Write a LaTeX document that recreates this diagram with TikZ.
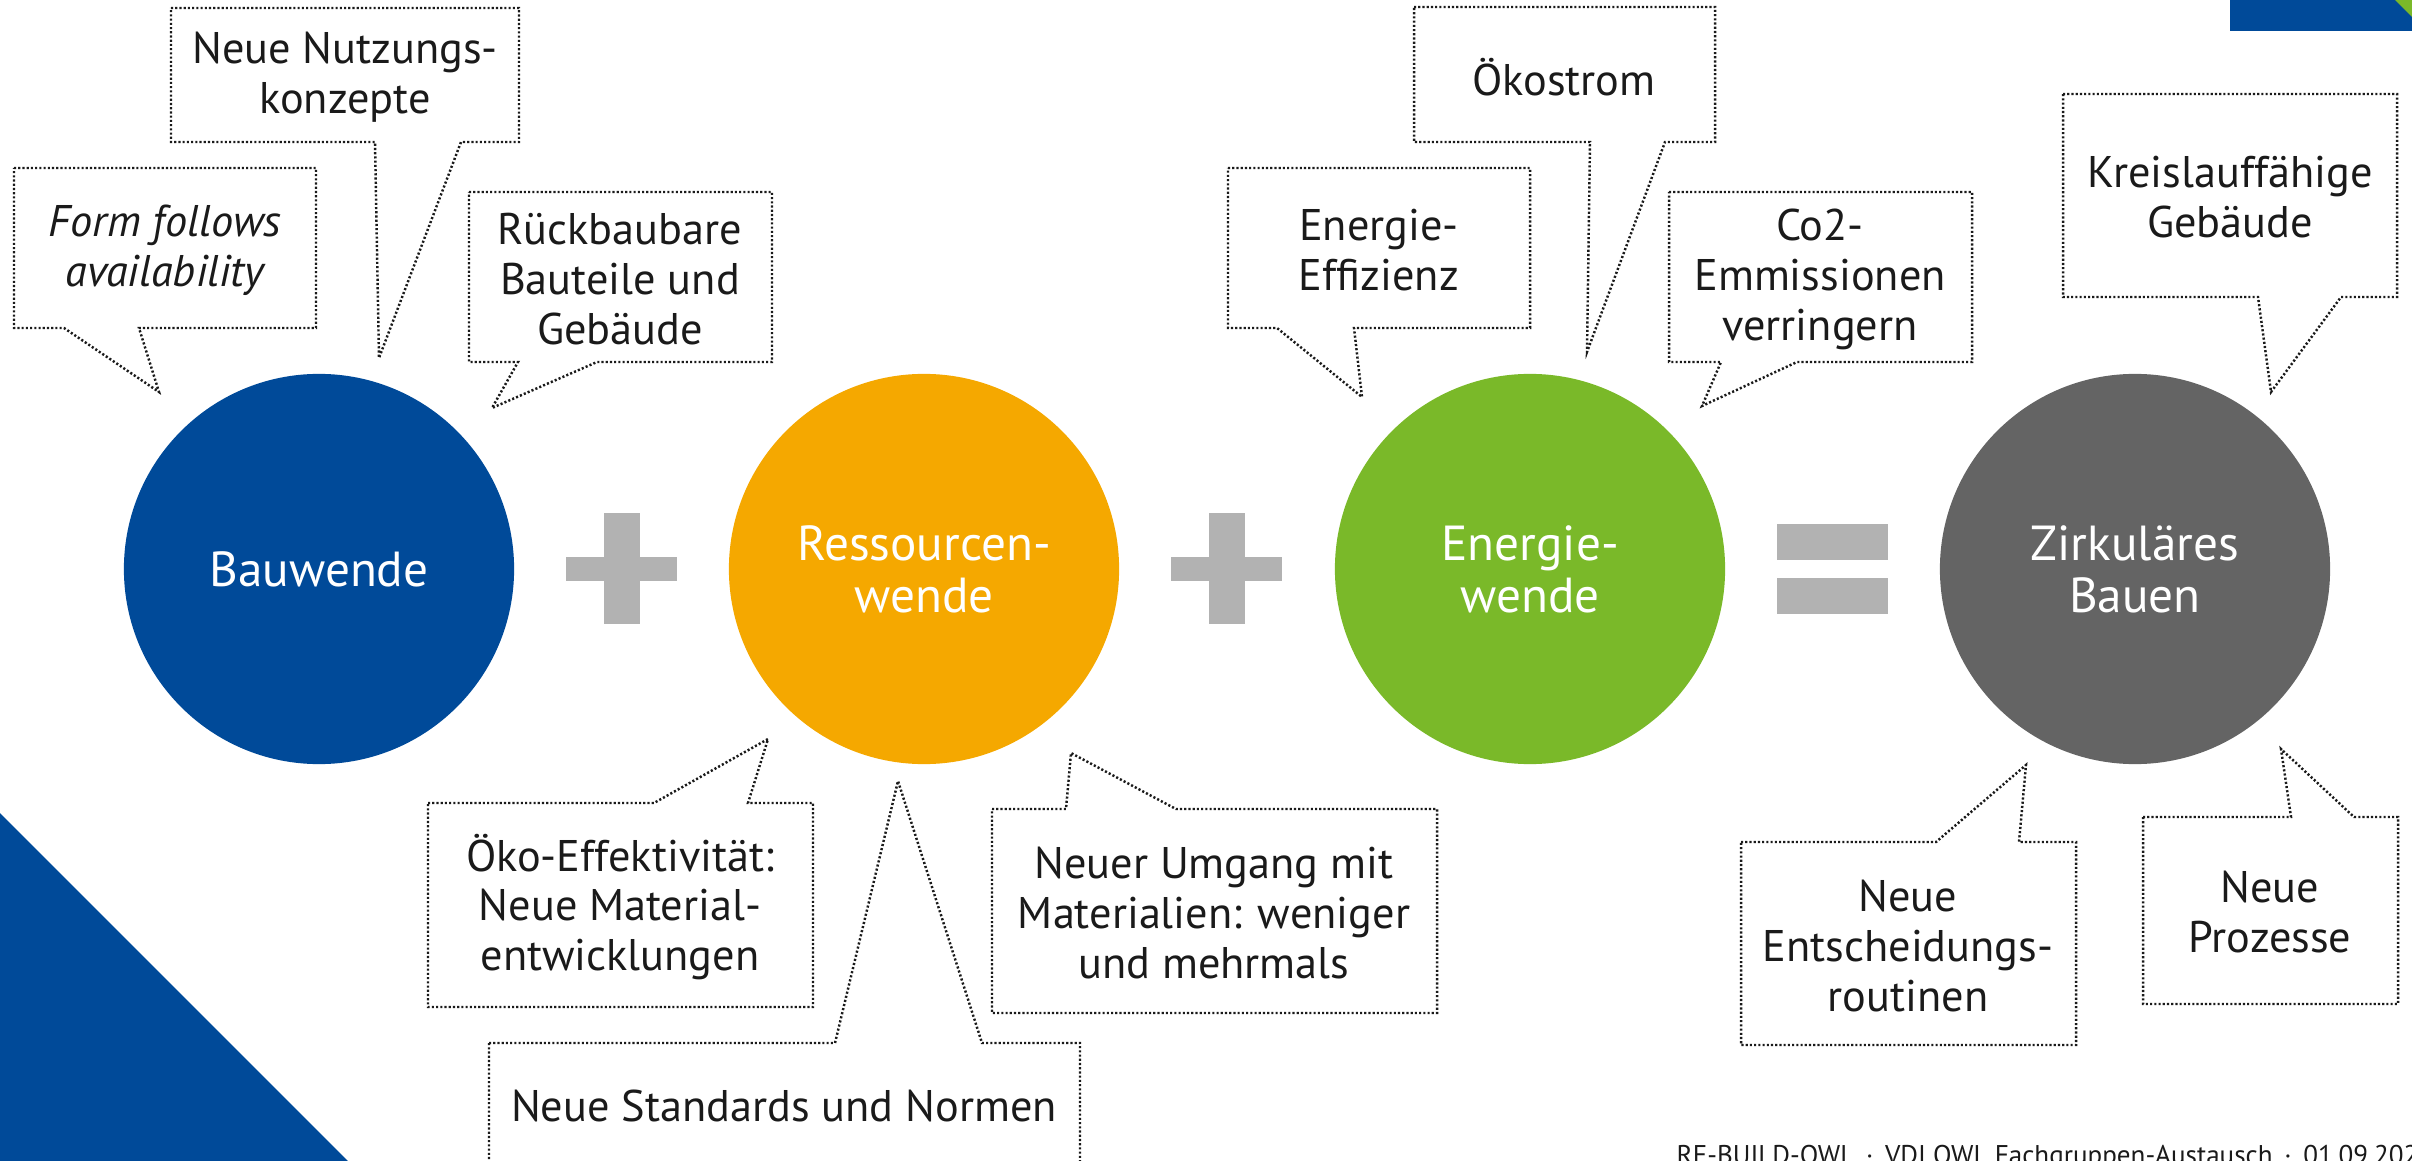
\documentclass[tikz,border=0pt]{standalone}
\usepackage{fontspec}
\setmainfont{PT Sans}
\definecolor{bwblue}{RGB}{0,74,153}
\definecolor{bworange}{RGB}{245,168,0}
\definecolor{bwgreen}{RGB}{122,185,41}
\definecolor{bwgrey}{RGB}{100,100,100}
\definecolor{opgrey}{RGB}{178,178,178}
\definecolor{inkc}{RGB}{26,26,26}
\definecolor{cornergreen}{RGB}{122,185,41}
\begin{document}
\begin{tikzpicture}[x=0.01cm,y=-0.01cm,
  callout/.style={draw=inkc, line width=0.7pt, dash pattern=on 0.6pt off 0.6pt, line join=miter},
  ctext/.style={align=center, text=inkc, font=\fontsize{12.6}{14.2}\selectfont, inner sep=0pt},
  bigcirc/.style={circle, minimum size=3.9cm, inner sep=0pt, text=white, align=center, font=\fontsize{14}{14.8}\selectfont},
  opbar/.style={fill=opgrey}]
\useasboundingbox (0,0) rectangle (2412,1161);
% corner decorations
\fill[bwblue] (0,813) -- (348,1161) -- (0,1161) -- cycle;
\fill[bwblue] (2230,0) rectangle (2412,31);
\fill[cornergreen] (2395,0) -- (2412,0) -- (2412,17) -- cycle;
% main circles
\node[bigcirc, fill=bwblue] (bau) at (319,569) {Bauwende};
\node[bigcirc, fill=bworange] (res) at (924,569) {Ressourcen-\\wende};
\node[bigcirc, fill=bwgreen] (ene) at (1530,569) {Energie-\\wende};
\node[bigcirc, fill=bwgrey] (zir) at (2135,569) {Zirkuläres\\Bauen};
% operators
\fill[opbar] (566,557) rectangle (677,581);
\fill[opbar] (604,513) rectangle (640,624);
\fill[opbar] (1171,557) rectangle (1282,581);
\fill[opbar] (1209,513) rectangle (1245,624);
\fill[opbar] (1777,524) rectangle (1888,560);
\fill[opbar] (1777,578) rectangle (1888,614);
% callouts above
\draw[callout] (14,168) -- (316,168) -- (316,328) -- (139,328) -- (159,392) -- (64,328) -- (14,328) -- cycle;
\node[ctext, font=\fontsize{12.6}{14.2}\selectfont\itshape] (c1) at (165,250) {Form follows\\availability};
\draw[callout] (171,8) -- (519,8) -- (519,142) -- (461,142) -- (379,358) -- (375,142) -- (171,142) -- cycle;
\node[ctext] (c2) at (345,77) {Neue Nutzungs-\\konzepte};
\draw[callout] (469,192) -- (772,192) -- (772,362) -- (597,362) -- (492,408) -- (518,362) -- (469,362) -- cycle;
\node[ctext] (c3) at (620,279) {Rückbaubare\\Bauteile und\\Gebäude};
\draw[callout] (1228,168) -- (1530,168) -- (1530,328) -- (1354,328) -- (1362,397) -- (1277,328) -- (1228,328) -- cycle;
\node[ctext] (c4) at (1379,250) {Energie-\\Effizienz};
\draw[callout] (1414,7) -- (1715,7) -- (1715,142) -- (1665,142) -- (1587,352) -- (1590,142) -- (1414,142) -- cycle;
\node[ctext] (c5) at (1564,77) {Ökostrom};
\draw[callout] (1669,192) -- (1972,192) -- (1972,362) -- (1797,362) -- (1702,406) -- (1721,362) -- (1669,362) -- cycle;
\node[ctext] (c6) at (1820,279) {Co2-\\Emmissionen\\verringern};
\draw[callout] (2063,94) -- (2397,94) -- (2397,297) -- (2341,297) -- (2271,392) -- (2258,297) -- (2063,297) -- cycle;
\node[ctext] (c7) at (2230,197) {Kreislauffähige\\Gebäude};
% callouts below
\draw[callout] (428,803) -- (654,803) -- (768,739) -- (748,803) -- (813,803) -- (813,1007) -- (428,1007) -- cycle;
\node[ctext] (c8) at (620,907) {Öko-Effektivität:\\Neue Material-\\entwicklungen};
\draw[callout] (992,809) -- (1066,809) -- (1071,753) -- (1176,809) -- (1437,809) -- (1437,1013) -- (992,1013) -- cycle;
\node[ctext] (c9) at (1214,913) {Neuer Umgang mit\\Materialien: weniger\\und mehrmals};
\draw[callout] (489,1043) -- (835,1043) -- (898,781) -- (982,1043) -- (1080,1043) -- (1080,1170) -- (489,1170) -- cycle;
\node[ctext] (c10) at (784,1106) {Neue Standards und Normen};
\draw[callout] (1741,842) -- (1936,842) -- (2026,765) -- (2019,842) -- (2076,842) -- (2076,1045) -- (1741,1045) -- cycle;
\node[ctext] (c11) at (1908,946) {Neue\\Entscheidungs-\\routinen};
\draw[callout] (2143,817) -- (2291,817) -- (2281,749) -- (2354,817) -- (2398,817) -- (2398,1004) -- (2143,1004) -- cycle;
\node[ctext] (c12) at (2270,912) {Neue\\Prozesse};
% footer
\node[anchor=base west, inner sep=0pt, text=inkc, font=\fontsize{7.7}{9}\selectfont] (foot) at (1676,1164) {RE-BUILD-OWL \,·\, VDI OWL Fachgruppen-Austausch \,·\, 01.09.2022};
\end{tikzpicture}
\end{document}
